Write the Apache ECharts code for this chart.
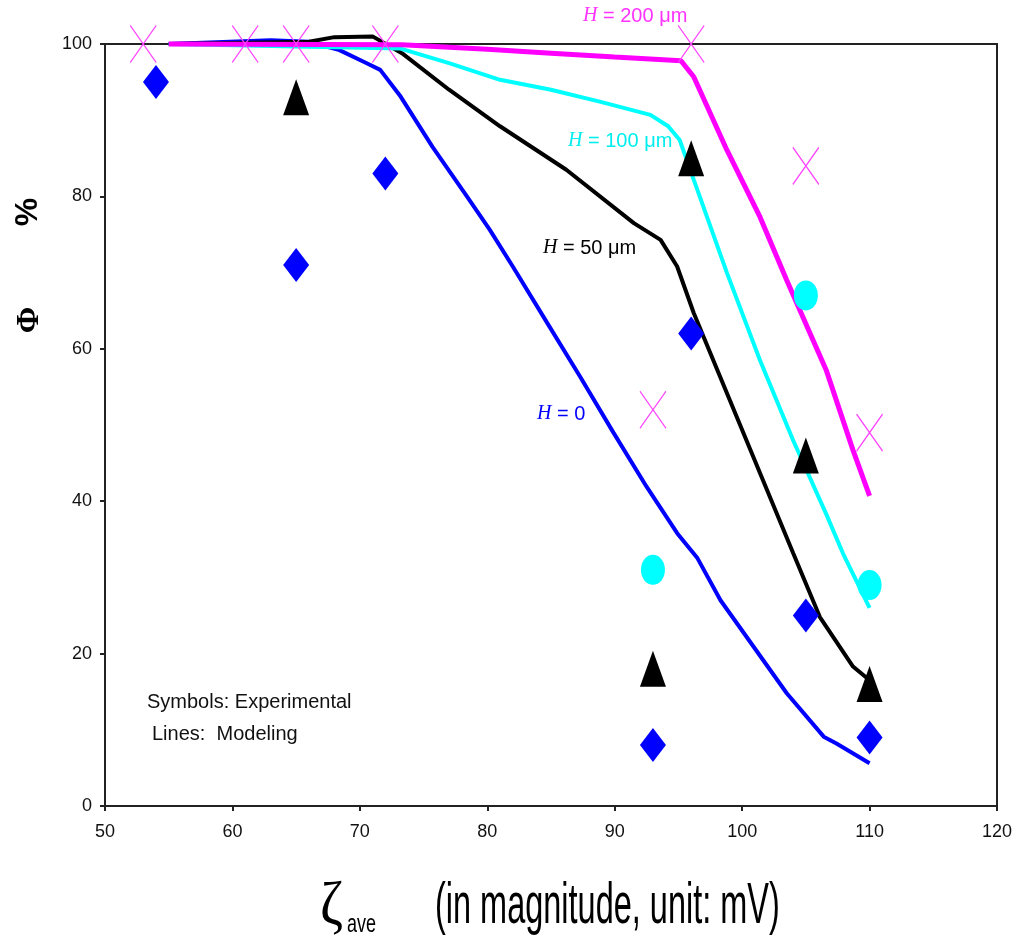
<!DOCTYPE html>
<html>
<head>
<meta charset="utf-8">
<script src="https://cdn.jsdelivr.net/npm/echarts@6/dist/echarts.min.js"></script>
<style>
html,body{margin:0;padding:0;background:#fff;}
#chart{width:1017px;height:945px;}
</style>
</head>
<body>
<div id="chart"></div>
<script>
// Experimental symbols
const expH0 = [[54,95],[65,71],[72,83],[93,8],[96,62],[105,25],[110,9]];
const expH50 = [[65,93],[93,18],[96,85],[105,46],[110,16]];
const expH100 = [[93,31],[105,67],[110,29]];
const expH200 = [[53,100],[61,100],[65,100],[72,100],[96,100],[93,52],[105,84],[110,49]];

// Model lines
const modelH0 = [[55,100],[63,100.5],[66,100.3],[68.4,99.2],[70.5,97.5],[71.6,96.6],[73.2,93.1],[75.7,86.5],[78.4,80],[80.2,75.6],[82,70.8],[84.7,63.4],[87.3,56.3],[89.9,49],[92.5,41.9],[94.9,35.8],[96.5,32.5],[98.3,27],[100.9,20.9],[103.5,14.8],[106.4,9.1],[107.4,8.2],[110,5.6]];
const modelH50 = [[55,100],[66,100.3],[68,100.9],[71,101],[73.3,98.8],[77,94],[81,89.2],[86.2,83.5],[91.5,76.5],[93.6,74.3],[94.9,70.8],[96.2,64.7],[98.8,54.2],[101.4,43.7],[104,33.2],[106.1,24.8],[108.7,18.3],[110,16.5]];
const modelH100 = [[55,100],[73.2,99.4],[77,97.5],[81,95.3],[85,94],[88.9,92.4],[92.8,90.7],[94.2,89.2],[95.1,87.4],[96.2,82.2],[98.8,70],[101.4,58.5],[104,48],[106.6,38.3],[107.9,33.2],[110,26]];
const modelH200 = [[55,100],[73.3,99.9],[80,99.3],[85,98.8],[90,98.3],[95.2,97.8],[96.2,95.7],[98.8,86.1],[101.4,77.3],[103.5,69],[106.6,57.2],[108.7,46.7],[110,40.7]];

const xMin = 50, xMax = 120, xStep = 10;
const yMin = 0, yMax = 100, yStep = 20;

const chart = echarts.init(document.getElementById('chart'));
const FONT = 'Liberation Sans';
const axisCommon = {
  axisLine: {show: true, lineStyle: {color: '#222', width: 2}},
  axisTick: {show: true, inside: false, length: 5, lineStyle: {color: '#222', width: 2}},
  splitLine: {show: false},
  axisLabel: {color: '#111', fontFamily: FONT, fontSize: 18}
};
function lineSeries(data, color, width) {
  return {type: 'line', data: data, showSymbol: false, symbol: 'none', clip: false,
    lineStyle: {color: color, width: width}, z: 3, animation: false};
}
function scatterSeries(data, symbol, size, color, extra) {
  return Object.assign({type: 'scatter', data: data, symbol: symbol, symbolSize: size,
    itemStyle: {color: color, opacity: 1}, z: 5, animation: false}, extra || {});
}
const option = {
  backgroundColor: '#fff',
  animation: false,
  grid: {left: 105, right: 20, top: 44, bottom: 139, show: true, borderColor: '#222', borderWidth: 2, backgroundColor: 'transparent'},
  xAxis: Object.assign({type: 'value', min: xMin, max: xMax, interval: xStep}, axisCommon,
    {axisLabel: Object.assign({}, axisCommon.axisLabel, {margin: 17})}),
  yAxis: Object.assign({type: 'value', min: yMin, max: yMax, interval: yStep}, axisCommon,
    {axisLabel: Object.assign({}, axisCommon.axisLabel, {margin: 13})}),
  series: [
    lineSeries(modelH0, '#0000ff', 4),
    lineSeries(modelH50, '#000000', 4),
    lineSeries(modelH100, '#00ffff', 4),
    lineSeries(modelH200, '#ff00ff', 5),
    scatterSeries(expH0, 'diamond', [26, 34], '#0000ff'),
    scatterSeries(expH50, 'triangle', [26, 36], '#000000'),
    scatterSeries(expH100, 'circle', [24, 30], '#00ffff'),
    scatterSeries(expH200, 'path://M0,0L10,15M10,0L0,15', [26, 37], 'transparent',
      {symbolKeepAspect: false, itemStyle: {color: 'none', borderColor: '#ff44ff', borderWidth: 1.3, opacity: 1}})
  ],
  graphic: [
    {type: 'text', left: 583, top: 6, style: {text: '{h|H} = 200 μm', fill: '#ff33ff', fontFamily: FONT, fontSize: 20,
      rich: {h: {fontFamily: 'Liberation Serif', fontStyle: 'italic', fontSize: 20, fill: '#ff33ff'}}}},
    {type: 'text', left: 568, top: 131, style: {text: '{h|H} = 100 μm', fill: '#00eeee', fontFamily: FONT, fontSize: 20,
      rich: {h: {fontFamily: 'Liberation Serif', fontStyle: 'italic', fontSize: 20, fill: '#00eeee'}}}},
    {type: 'text', left: 543, top: 238, style: {text: '{h|H} = 50 μm', fill: '#000', fontFamily: FONT, fontSize: 20,
      rich: {h: {fontFamily: 'Liberation Serif', fontStyle: 'italic', fontSize: 20, fill: '#000'}}}},
    {type: 'text', left: 537, top: 404, style: {text: '{h|H} = 0', fill: '#0000ff', fontFamily: FONT, fontSize: 20,
      rich: {h: {fontFamily: 'Liberation Serif', fontStyle: 'italic', fontSize: 20, fill: '#0000ff'}}}},
    {type: 'text', left: 147, top: 692, style: {text: 'Symbols: Experimental', fill: '#111', fontFamily: FONT, fontSize: 20}},
    {type: 'text', left: 152, top: 724, style: {text: 'Lines:  Modeling', fill: '#111', fontFamily: FONT, fontSize: 20}},
    // y-axis title (rotated)
    {type: 'text', x: 30, y: 320, rotation: Math.PI / 2,
      style: {text: 'Φ', fill: '#000', fontFamily: 'Liberation Serif', fontWeight: 'bold', fontSize: 32, align: 'center', verticalAlign: 'middle'}},
    {type: 'text', x: 28, y: 212, rotation: Math.PI / 2,
      style: {text: '%', fill: '#000', fontFamily: FONT, fontWeight: 'bold', fontSize: 32, align: 'center', verticalAlign: 'middle'}},
    // x-axis title
    {type: 'text', x: 320, y: 908, scaleX: 0.9,
      style: {text: 'ζ', fill: '#000', fontFamily: 'Liberation Serif', fontSize: 62, align: 'left', verticalAlign: 'middle'}},
    {type: 'text', x: 347, y: 925, scaleX: 0.72,
      style: {text: 'ave', fill: '#000', fontFamily: FONT, fontSize: 25, align: 'left', verticalAlign: 'middle'}},
    {type: 'text', x: 435, y: 907, scaleX: 0.56,
      style: {text: '(in magnitude, unit: mV)', fill: '#000', fontFamily: FONT, fontSize: 58, align: 'left', verticalAlign: 'middle'}}
  ]
};
chart.setOption(option);
</script>
</body>
</html>
